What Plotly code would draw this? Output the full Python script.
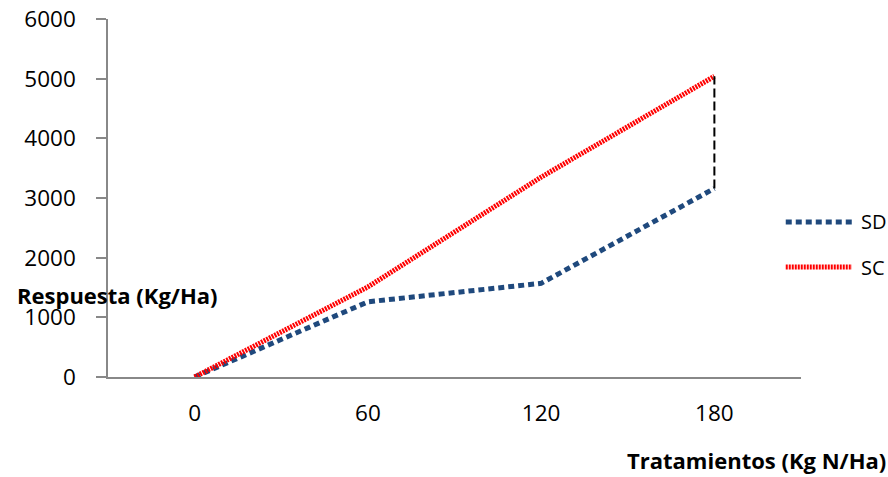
import plotly.graph_objects as go

categories = ["0", "60", "120", "180"]
sd_values = [0, 1260, 1570, 3160]
sc_values = [0, 1510, 3350, 5040]
y_ticks = [0, 1000, 2000, 3000, 4000, 5000, 6000]

FONT = "Open Sans"
SD_COLOR = "#1F497D"
SC_COLOR = "#FF0000"
SC_DASH = "2px,1px"

fig = go.Figure()
fig.add_trace(go.Scatter(x=categories, y=sd_values, mode="lines", name="SD",
                         line=dict(color=SD_COLOR, width=5, dash="6px,4px"),
                         showlegend=False, hoverinfo="x+y"))
fig.add_trace(go.Scatter(x=categories, y=sc_values, mode="lines", name="SC",
                         line=dict(color=SC_COLOR, width=5, dash=SC_DASH),
                         showlegend=False, hoverinfo="x+y"))
# high-low line at the last category
fig.add_trace(go.Scatter(x=[categories[-1], categories[-1]], y=[sd_values[-1], sc_values[-1]],
                         mode="lines", line=dict(color="black", width=2, dash="9px,4px"),
                         showlegend=False, hoverinfo="skip"))

fig.update_layout(
    width=888, height=477,
    margin=dict(l=108, r=87, t=19, b=100, autoexpand=False),
    paper_bgcolor="white", plot_bgcolor="white",
    font=dict(family=FONT, size=22, color="black"),
    xaxis=dict(type="category", range=[-0.5, 3.5], showgrid=False, zeroline=False,
               showline=True, linecolor="#888888", linewidth=1.5, ticks="",
               ticklabelstandoff=15, tickfont=dict(size=22.5), automargin=False),
    yaxis=dict(range=[0, 6000], tickvals=y_ticks, showgrid=False, zeroline=False,
               showline=True, linecolor="#888888", linewidth=1.5, ticks="outside",
               ticklen=10, tickcolor="#888888", tickwidth=1.5, ticklabelstandoff=16,
               tickfont=dict(size=22.5), automargin=False),
    annotations=[
        dict(text="<b>Respuesta (Kg/Ha)</b>", xref="paper", yref="paper",
             x=-0.1342, y=0.229, xanchor="left", yanchor="middle", showarrow=False,
             font=dict(size=22)),
        dict(text="<b>Tratamientos (Kg N/Ha)</b>", xref="paper", yref="paper",
             x=0.936, y=-0.232, xanchor="center", yanchor="middle", showarrow=False,
             font=dict(size=22)),
        dict(text="SD", xref="paper", yref="paper", x=1.084, y=0.433,
             xanchor="left", yanchor="middle", showarrow=False, font=dict(size=20)),
        dict(text="SC", xref="paper", yref="paper", x=1.084, y=0.307,
             xanchor="left", yanchor="middle", showarrow=False, font=dict(size=20)),
    ],
    shapes=[
        dict(type="line", xref="paper", yref="paper", x0=0.978, x1=1.0736, y0=0.433, y1=0.433,
             line=dict(color=SD_COLOR, width=5, dash="6px,4px")),
        dict(type="line", xref="paper", yref="paper", x0=0.978, x1=1.0736, y0=0.307, y1=0.307,
             line=dict(color=SC_COLOR, width=5, dash=SC_DASH)),
    ],
)

fig.write_html("out.html")
